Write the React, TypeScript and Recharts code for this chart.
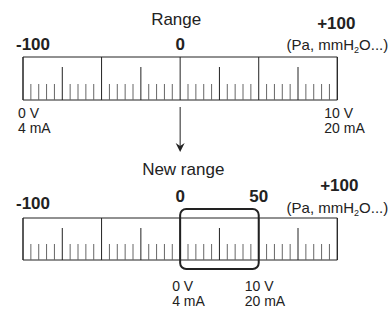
import { ComposedChart, XAxis, YAxis, ReferenceLine, ReferenceArea, ReferenceDot } from 'recharts';

// ruler scale (Pa, mmH2O...)
const majorTicks = [-100, -50, 0, 50, 100];
const halfTicks = [-75, -25, 25, 75];
const minorTicks = [
  -95, -90, -85, -80, -70, -65, -60, -55, -45, -40, -35, -30, -20, -15, -10, -5,
  5, 10, 15, 20, 30, 35, 40, 45, 55, 60, 65, 70, 80, 85, 90, 95,
];

// range labels
const rangeValues = [-100, 0, 100];
const rangeLabels = ['-100', '0', '+100'];
const newRangeValues = [-100, 0, 50, 100];
const newRangeLabels = ['-100', '0', '50', '+100'];

// output signal spans
const oldSpan = [-100, 100];
const newSpan = [0, 50];
const lowSignal = ['0 V', '4 mA'];
const highSignal = ['10 V', '20 mA'];

const W = 390;
const H = 309;
const FONT = "'Liberation Sans', Arimo, Arial, sans-serif";
const INK = '#222';

// ruler geometry (pixels from top, y axis is reversed)
const TOP = { top: 57, bottom: 100 };
const BOT = { top: 218, bottom: 260 };

type TextOpts = {
  dx?: number;
  anchor?: 'start' | 'middle' | 'end';
  size?: number;
  bold?: boolean;
};

const textShape = (content: any, o: TextOpts = {}) => (p: any) => (
  <text
    x={p.cx + (o.dx ?? 0)}
    y={p.cy}
    textAnchor={o.anchor ?? 'start'}
    style={{ fontFamily: FONT, fontSize: o.size ?? 14, fontWeight: o.bold ? 700 : 400 }}
    fill={INK}
  >
    {content}
  </text>
);

const unitText = (
  <>
    (Pa, mmH
    <tspan style={{ fontSize: 9 }} dy={3}>2</tspan>
    <tspan dy={-3}>O...)</tspan>
  </>
);

const arrowHead = (p: any) => (
  <path
    d={`M${p.cx - 4.5},${p.cy - 9} L${p.cx},${p.cy} L${p.cx + 4.5},${p.cy - 9} L${p.cx},${p.cy - 6} Z`}
    fill={INK}
  />
);

const roundBox = (p: any) => (
  <rect
    x={p.x}
    y={p.y}
    width={p.width}
    height={p.height}
    rx={6}
    ry={6}
    fill="none"
    stroke={INK}
    strokeWidth={2}
  />
);

function rulerTicks(r: { top: number; bottom: number }, key: string) {
  return [
    <ReferenceArea
      key={`${key}-frame`}
      x1={-100}
      x2={100}
      y1={r.top}
      y2={r.bottom}
      fill="none"
      stroke={INK}
      strokeWidth={1}
      fillOpacity={0}
    />,
    ...majorTicks.map((v) => (
      <ReferenceLine key={`${key}-M${v}`} segment={[{ x: v, y: r.top }, { x: v, y: r.bottom }]} stroke={INK} strokeWidth={1} />
    )),
    ...halfTicks.map((v) => (
      <ReferenceLine key={`${key}-H${v}`} segment={[{ x: v, y: r.top + 10 }, { x: v, y: r.bottom }]} stroke={INK} strokeWidth={1} />
    )),
    ...minorTicks.map((v) => (
      <ReferenceLine key={`${key}-m${v}`} segment={[{ x: v, y: r.bottom - 16 }, { x: v, y: r.bottom }]} stroke="#666" strokeWidth={1} />
    )),
  ];
}

export default function App() {
  return (
    <div style={{ position: 'absolute', left: 0, top: 0, width: W, height: H, background: '#fff' }}>
      <ComposedChart width={W} height={H} data={[]} margin={{ top: 0, right: 0, bottom: 0, left: 0 }}>
        <XAxis type="number" dataKey="x" domain={[-114.64, 133.54]} allowDataOverflow hide />
        <YAxis type="number" dataKey="y" domain={[0, H]} reversed allowDataOverflow hide />

        {/* original range */}
        <ReferenceDot x={0} y={25} r={0} shape={textShape('Range', { dx: -29, size: 17 })} />
        {rangeValues.map((v, i) => (
          <ReferenceDot
            key={`r${v}`}
            x={v}
            y={i === 2 ? 29 : 50}
            r={0}
            shape={textShape(rangeLabels[i], {
              anchor: i === 0 ? 'start' : 'middle',
              dx: i === 0 ? -7 : i === 2 ? -1 : 0,
              size: 17,
              bold: true,
            })}
          />
        ))}
        <ReferenceDot x={100} y={50} r={0} shape={textShape(unitText, { anchor: 'end', dx: 51, size: 15 })} />
        {rulerTicks(TOP, 'top')}
        {lowSignal.map((t, i) => (
          <ReferenceDot key={`lo${t}`} x={oldSpan[0]} y={118 + i * 15} r={0} shape={textShape(t, { dx: -5 })} />
        ))}
        {highSignal.map((t, i) => (
          <ReferenceDot key={`hi${t}`} x={oldSpan[1]} y={118 + i * 15} r={0} shape={textShape(t, { dx: -13 })} />
        ))}

        {/* arrow */}
        <ReferenceLine segment={[{ x: 0, y: 107 }, { x: 0, y: 148 }]} stroke={INK} strokeWidth={1} />
        <ReferenceDot x={0} y={152} r={0} shape={arrowHead} />

        {/* new range */}
        <ReferenceDot x={0} y={175} r={0} shape={textShape('New range', { dx: -38, size: 17 })} />
        {newRangeValues.map((v, i) => (
          <ReferenceDot
            key={`n${v}`}
            x={v}
            y={i === 0 ? 209 : i === 3 ? 191 : 202}
            r={0}
            shape={textShape(newRangeLabels[i], {
              anchor: i === 0 ? 'start' : 'middle',
              dx: i === 0 ? -7 : i === 3 ? 2 : 0,
              size: 17,
              bold: true,
            })}
          />
        ))}
        <ReferenceDot x={100} y={213} r={0} shape={textShape(unitText, { anchor: 'end', dx: 51, size: 15 })} />
        {rulerTicks(BOT, 'bot')}
        <ReferenceArea x1={newSpan[0]} x2={newSpan[1]} y1={209} y2={269} shape={roundBox} />
        {lowSignal.map((t, i) => (
          <ReferenceDot key={`nlo${t}`} x={newSpan[0]} y={291 + i * 15} r={0} shape={textShape(t, { dx: -8 })} />
        ))}
        {highSignal.map((t, i) => (
          <ReferenceDot key={`nhi${t}`} x={newSpan[1]} y={291 + i * 15} r={0} shape={textShape(t, { dx: -14 })} />
        ))}
      </ComposedChart>
    </div>
  );
}
